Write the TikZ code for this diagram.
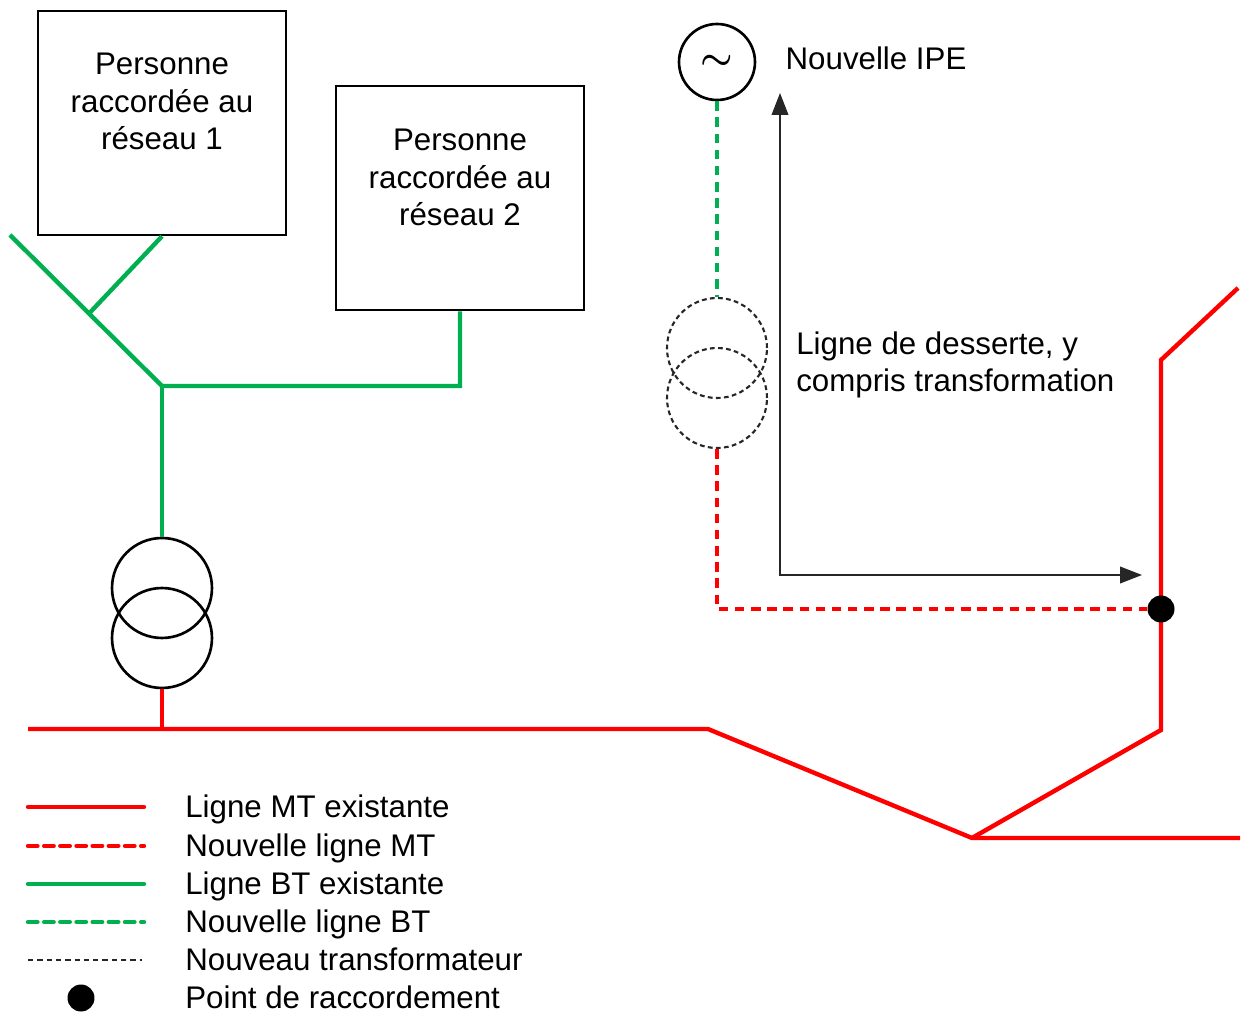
\documentclass[tikz,border=0pt]{standalone}
\usepackage{amsmath}
\usepackage{fontspec}
\setmainfont{Liberation Sans}
\usetikzlibrary{calc}
\usetikzlibrary{positioning}
\usetikzlibrary{arrows.meta}

\definecolor{mtred}{RGB}{255,0,0}
\definecolor{btgreen}{RGB}{0,176,80}

\begin{document}
\begin{tikzpicture}
            [x=0.02cm, y=-0.02cm,
            mt/.style={mtred, line width=2.5pt},
            mtnew/.style={mt, dash pattern=on 5.4pt off 3.8pt},
            bt/.style={btgreen, line width=2.5pt},
            btnew/.style={bt, dash pattern=on 5.4pt off 3.8pt},
            person/.style={draw, line width=1.5pt, minimum width=4.96cm, minimum height=4.48cm},
            winding/.style={circle, draw, line width=1.5pt, minimum size=2cm, inner sep=0pt},
            newwinding/.style={winding, draw=black!85, line width=1.2pt, dash pattern=on 2.7pt off 1.9pt},
            joint/.style={circle, fill=black, inner sep=0pt, minimum size=0.54cm},
            txt/.style={inner sep=0pt, align=center, font=\fontsize{17.8}{21.6}\selectfont},
            sample/.style={line cap=round},
            ]
            \useasboundingbox (0,0) rectangle (1241,1016);

            % clients
            \node[person] (p1) at (162,123) {};
            \node[person] (p2) at (460,198) {};
            \node[txt, below=0.85cm of p1.north] (p1txt) {Personne\\raccordée au\\réseau 1};
            \node[txt, below=0.87cm of p2.north] (p2txt) {Personne\\raccordée au\\réseau 2};

            % existing transformer
            \node[winding] (tA) at (162,588) {};
            \node[winding] (tB) at (162,638) {};

            % new IPE and new transformer
            \node[circle, draw, line width=1.5pt, minimum size=1.52cm, inner sep=0pt, font=\fontsize{22}{24}\selectfont] (g) at (717,62) {$\boldsymbol{\sim}$};
            \node[txt, right=0.58cm of g, yshift=2pt] (gtxt) {Nouvelle IPE};
            \node[newwinding] (tU) at (717,348) {};
            \node[newwinding] (tL) at (717,398) {};
            \node[txt, align=left, anchor=north west] (desserte) at (796,331) {Ligne de desserte, y\\compris transformation};

            % BT network
            \coordinate (g0) at (10,235);
            \coordinate (g1) at (162,386);
            \coordinate (gb) at ($(g0)!0.52!(g1)$);
            \draw[bt] (g0) -- (g1) -- (p2.south |- g1) -- (p2.south);
            \draw[bt] (gb) -- (p1.south);
            \draw[bt] (g1) -- (tA.north);

            % MT network
            \coordinate (m0) at (28,729);
            \coordinate (m1) at (708,729);
            \coordinate (m2) at (972,838);
            \coordinate (m3) at (1240,838);
            \coordinate (m4) at (1161,730);
            \coordinate (m5) at (1161,360);
            \coordinate (m6) at (1238,288);
            \draw[mt] (m0) -- (m1) -- (m2) -- (m3);
            \draw[mt] (m2) -- (m4) -- (m5) -- (m6);
            \draw[mt] (tB.south) -- (tB.south |- m0);

            % new lines
            \node[joint] (pc) at (1161,609) {};
            \draw[btnew] (g.south) -- (tU.north);
            \draw[mtnew] (tL.south) |- (pc);

            % extent of the connection line
            \coordinate (atop) at (780,93);
            \coordinate (aright) at (1142,575);
            \draw[black!85, line width=0.9pt, {Triangle[length=12.5pt, width=9.5pt]}-{Triangle[length=12.5pt, width=9.5pt]}] (atop) |- (aright);

            % legend
            \draw[mt, sample] (28,807) -- (144,807);
            \draw[mtnew, sample] (28,846) -- (144,846);
            \draw[bt, sample] (28,884) -- (144,884);
            \draw[btnew, sample] (28,922) -- (144,922);
            \draw[black!85, line width=0.9pt, dash pattern=on 3pt off 2.3pt] (28,960) -- (142,960);
            \node[joint] (ldot) at (81,998) {};
            \node[txt, anchor=base west] (l1) at (185,817) {Ligne MT existante};
            \node[txt, anchor=base west] (l2) at (185,856) {Nouvelle ligne MT};
            \node[txt, anchor=base west] (l3) at (185,894) {Ligne BT existante};
            \node[txt, anchor=base west] (l4) at (185,932) {Nouvelle ligne BT};
            \node[txt, anchor=base west] (l5) at (185,970) {Nouveau transformateur};
            \node[txt, anchor=base west] (l6) at (185,1008) {Point de raccordement};
\end{tikzpicture}
\end{document}
